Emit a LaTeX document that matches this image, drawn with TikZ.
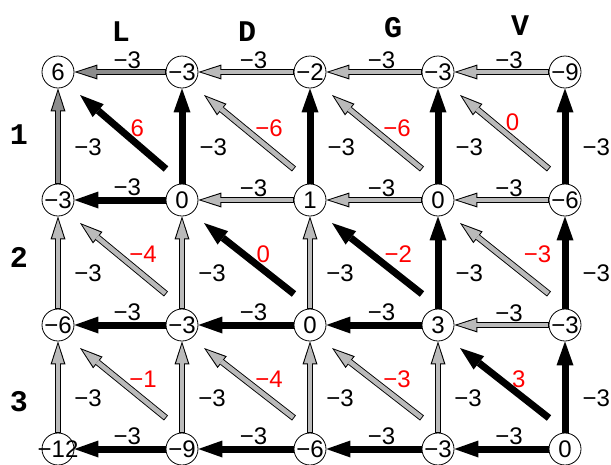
\documentclass[tikz,border=0pt]{standalone}
\usepackage{fontspec}
\setmainfont{Liberation Sans}
\newfontfamily\hdrfont{Liberation Mono}
\usetikzlibrary{arrows.meta,calc}
\newcommand{\wide}[1]{\makebox[0pt]{#1}}
\tikzset{
  cell/.style={draw, circle, line width=0.8pt, fill=white, minimum size=32pt, inner sep=0pt, font=\fontsize{24}{24}\selectfont},
  hdr/.style={font=\hdrfont\bfseries\fontsize{30}{30}\selectfont},
  hlab/.style={pos=0.42, above=0pt, inner sep=1pt, font=\fontsize{24}{24}\selectfont},
  vlab/.style={pos=0.38, right=13pt, inner sep=1pt, font=\fontsize{24}{24}\selectfont},
  dlab/.style={midway, anchor=west, xshift=3pt, yshift=4pt, inner sep=1pt, text=red, font=\fontsize{24}{24}\selectfont},
  barrow/.style={draw=black, line width=7pt, -{Triangle[length=24pt,width=17pt,line width=0pt]}},
  garrow/.style={draw=black!27, line width=4.6pt, -{Triangle[length=19pt,width=12pt,line width=0pt]}, shorten >=3pt, shorten <=0.9pt,
    preaction={draw=black, line width=6.4pt, -{Triangle[length=23pt,width=15pt,line width=0pt]}, shorten >=0pt, shorten <=0pt}},
  darrow/.style={garrow, draw=black!45}
}
\begin{document}
\begin{tikzpicture}[x=1pt, y=-1pt]
  \useasboundingbox (0,0) rectangle (611,464);
  \node[hdr] (hl) at (121,32) {L};
  \node[hdr] (hd) at (247,32) {D};
  \node[hdr] (hg) at (393,28) {G};
  \node[hdr] (hv) at (520,26) {V};
  \node[hdr] (r1) at (19,135) {1};
  \node[hdr] (r2) at (19,257) {2};
  \node[hdr] (r3) at (19,402) {3};

  \node[cell] (c00) at (58,72) {\wide{6}};
  \node[cell] (c01) at (182,72) {\wide{−3}};
  \node[cell] (c02) at (310,72) {\wide{−2}};
  \node[cell] (c03) at (438,72) {\wide{−3}};
  \node[cell] (c04) at (565,72) {\wide{−9}};
  \node[cell] (c10) at (58,200) {\wide{−3}};
  \node[cell] (c11) at (182,200) {\wide{0}};
  \node[cell] (c12) at (310,200) {\wide{1}};
  \node[cell] (c13) at (438,200) {\wide{0}};
  \node[cell] (c14) at (565,200) {\wide{−6}};
  \node[cell] (c20) at (58,325) {\wide{−6}};
  \node[cell] (c21) at (182,325) {\wide{−3}};
  \node[cell] (c22) at (310,325) {\wide{0}};
  \node[cell] (c23) at (438,325) {\wide{3}};
  \node[cell] (c24) at (565,325) {\wide{−3}};
  \node[cell] (c30) at (58,449) {\wide{−12}};
  \node[cell] (c31) at (182,449) {\wide{−9}};
  \node[cell] (c32) at (310,449) {\wide{−6}};
  \node[cell] (c33) at (438,449) {\wide{−3}};
  \node[cell] (c34) at (565,449) {\wide{0}};

  \draw[darrow] (c01) -- node[hlab] {−3} (c00);
  \draw[garrow] (c02) -- node[hlab] {−3} (c01);
  \draw[garrow] (c03) -- node[hlab] {−3} (c02);
  \draw[garrow] (c04) -- node[hlab] {−3} (c03);
  \draw[barrow] (c11) -- node[hlab] {−3} (c10);
  \draw[garrow] (c12) -- node[hlab] {−3} (c11);
  \draw[garrow] (c13) -- node[hlab] {−3} (c12);
  \draw[garrow] (c14) -- node[hlab] {−3} (c13);
  \draw[barrow] (c21) -- node[hlab] {−3} (c20);
  \draw[barrow] (c22) -- node[hlab] {−3} (c21);
  \draw[barrow] (c23) -- node[hlab] {−3} (c22);
  \draw[garrow] (c24) -- node[hlab] {−3} (c23);
  \draw[barrow] (c31) -- node[hlab] {−3} (c30);
  \draw[barrow] (c32) -- node[hlab] {−3} (c31);
  \draw[barrow] (c33) -- node[hlab] {−3} (c32);
  \draw[barrow] (c34) -- node[hlab] {−3} (c33);

  \draw[darrow] (c10) -- node[vlab] {−3} (c00);
  \draw[garrow] (c20) -- node[vlab] {−3} (c10);
  \draw[garrow] (c30) -- node[vlab] {−3} (c20);
  \draw[barrow] (c11) -- node[vlab] {−3} (c01);
  \draw[garrow] (c21) -- node[vlab] {−3} (c11);
  \draw[garrow] (c31) -- node[vlab] {−3} (c21);
  \draw[barrow] (c12) -- node[vlab] {−3} (c02);
  \draw[garrow] (c22) -- node[vlab] {−3} (c12);
  \draw[garrow] (c32) -- node[vlab] {−3} (c22);
  \draw[barrow] (c13) -- node[vlab] {−3} (c03);
  \draw[barrow] (c23) -- node[vlab] {−3} (c13);
  \draw[garrow] (c33) -- node[vlab] {−3} (c23);
  \draw[barrow] (c14) -- node[vlab] {−3} (c04);
  \draw[barrow] (c24) -- node[vlab] {−3} (c14);
  \draw[barrow] (c34) -- node[vlab] {−3} (c24);

  \draw[barrow] ($(c11)+(-16,-31)$) -- node[dlab] {6} ($(c00)+(22,23)$);
  \draw[garrow] ($(c12)+(-16,-31)$) -- node[dlab] {−6} ($(c01)+(22,23)$);
  \draw[garrow] ($(c13)+(-16,-31)$) -- node[dlab] {−6} ($(c02)+(22,23)$);
  \draw[garrow] ($(c14)+(-16,-31)$) -- node[dlab, xshift=-5pt, yshift=6pt] {0} ($(c03)+(22,23)$);
  \draw[garrow] ($(c21)+(-16,-31)$) -- node[dlab] {−4} ($(c10)+(22,23)$);
  \draw[barrow] ($(c22)+(-16,-31)$) -- node[dlab] {0} ($(c11)+(22,23)$);
  \draw[barrow] ($(c23)+(-16,-31)$) -- node[dlab] {−2} ($(c12)+(22,23)$);
  \draw[garrow] ($(c24)+(-16,-31)$) -- node[dlab, xshift=13pt] {−3} ($(c13)+(22,23)$);
  \draw[garrow] ($(c31)+(-16,-31)$) -- node[dlab] {−1} ($(c20)+(22,23)$);
  \draw[garrow] ($(c32)+(-16,-31)$) -- node[dlab] {−4} ($(c21)+(22,23)$);
  \draw[garrow] ($(c33)+(-16,-31)$) -- node[dlab] {−3} ($(c22)+(22,23)$);
  \draw[barrow] ($(c34)+(-16,-31)$) -- node[dlab] {3} ($(c23)+(22,23)$);
\end{tikzpicture}
\end{document}
